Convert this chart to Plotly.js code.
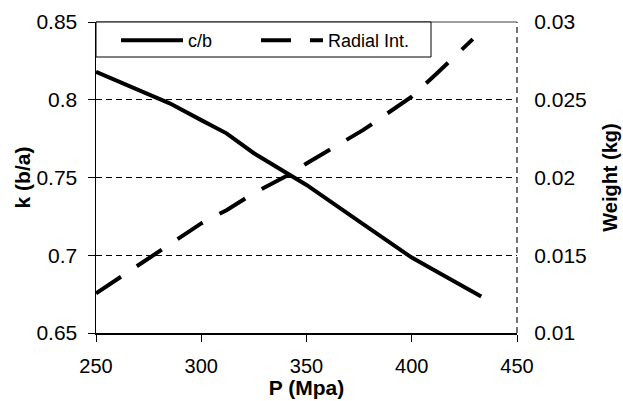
<!DOCTYPE html>
<html>
<head>
<meta charset="utf-8">
<script src="https://cdn.plot.ly/plotly-3.0.1.min.js"></script>
<style>html,body{margin:0;padding:0;background:#fff;}#chart{width:623px;height:401px;}</style>
</head>
<body>
<div id="chart"></div>
<script>
// c/b series (left axis, k (b/a))
const cbP = [250, 275, 285, 300, 312, 325, 342, 350, 375, 400, 412, 433];
const cbK = [0.818, 0.8036, 0.7977, 0.7869, 0.7784, 0.7656, 0.7516, 0.7452, 0.7218, 0.6985, 0.6894, 0.6734];
// Radial Int. series (right axis, Weight (kg))
const radP = [250, 275, 300, 312, 325, 342, 350, 377, 400, 412, 429];
const radW = [0.01255, 0.0148, 0.01705, 0.0179, 0.019, 0.0202, 0.0209, 0.02306, 0.0252, 0.0267, 0.0289];

const FONT = '"Liberation Sans", Arial, sans-serif';

const traces = [
  {x: cbP, y: cbK, name: 'c/b', type: 'scatter', mode: 'lines',
   line: {color: '#000', width: 4}, yaxis: 'y', legend: 'legend'},
  {x: radP, y: radW, name: 'Radial Int.', type: 'scatter', mode: 'lines',
   line: {color: '#000', width: 4, dash: '30px,19px'}, yaxis: 'y2', legend: 'legend2'}
];

const plotW = 623 - 96 - 106, plotH = 401 - 22 - 68;

const legendStyle = {y: 1, xanchor: 'left', yanchor: 'top', orientation: 'h',
  bgcolor: 'rgba(0,0,0,0)', borderwidth: 0,
  font: {family: FONT, size: 18, color: '#000'}, itemwidth: 62};

const layout = {
  width: 623, height: 401,
  margin: {l: 96, r: 106, t: 22, b: 68},
  paper_bgcolor: '#fff', plot_bgcolor: '#fff',
  font: {family: FONT, size: 20, color: '#000'},
  showlegend: true,
  legend: Object.assign({x: 20 / plotW}, legendStyle),
  legend2: Object.assign({x: 160 / plotW}, legendStyle),
  xaxis: {range: [250, 450], dtick: 50, tick0: 250, showgrid: false, zeroline: false,
    showline: true, linecolor: '#000', linewidth: 1.5, ticks: 'outside', ticklen: 7,
    tickcolor: '#000', tickfont: {size: 20}, ticklabelstandoff: 7,
    title: {text: '<b>P (Mpa)</b>', font: {size: 21}, standoff: 2}},
  yaxis: {range: [0.65, 0.85], dtick: 0.05, tick0: 0.65, showgrid: true,
    gridcolor: '#000', griddash: '6px,4px', gridwidth: 1, zeroline: false,
    showline: true, linecolor: '#000', linewidth: 1.5, ticks: 'outside', ticklen: 7,
    tickcolor: '#000', tickfont: {size: 21}, ticklabelstandoff: 6,
    title: {text: '<b>k (b/a)</b>', font: {size: 21}, standoff: 0}},
  yaxis2: {range: [0.01, 0.03], dtick: 0.005, tick0: 0.01, overlaying: 'y', side: 'right',
    showgrid: false, zeroline: false, showline: false, ticks: 'outside', ticklen: 12,
    tickcolor: 'rgba(0,0,0,0)', tickfont: {size: 21},
    title: {text: '<b>Weight (kg)</b>', font: {size: 20}, standoff: 17}},
  shapes: [
    {type: 'line', xref: 'paper', yref: 'paper', x0: 0, x1: 1, y0: 1, y1: 1,
     line: {color: '#808080', width: 1.5}},
    {type: 'line', xref: 'paper', yref: 'paper', x0: 1, x1: 1, y0: 0, y1: 1,
     line: {color: '#444', width: 1.5, dash: '6px,4px'}},
    {type: 'rect', xref: 'paper', yref: 'paper', layer: 'above',
     x0: 0, x1: 335 / plotW, y0: 1, y1: 1 - 35 / plotH,
     fillcolor: '#fff', line: {color: '#000', width: 1}}
  ]
};

Plotly.newPlot('chart', traces, layout, {displayModeBar: false, staticPlot: true});
</script>
</body>
</html>
